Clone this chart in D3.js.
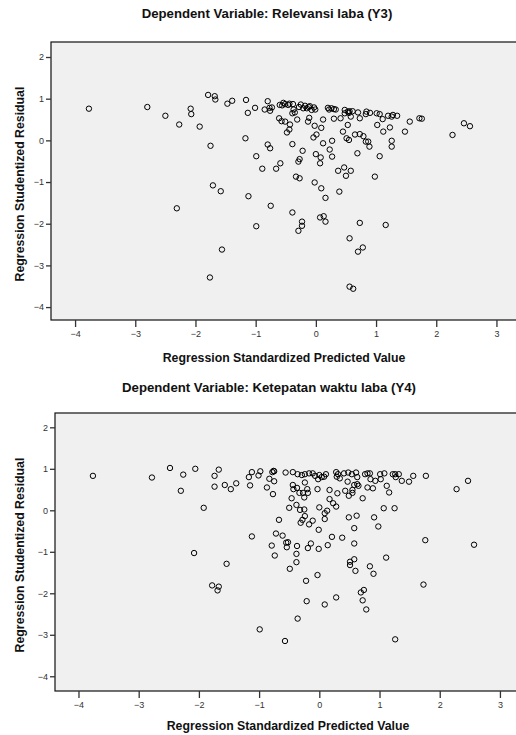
<!DOCTYPE html>
<html lang="en">
  <head>
    <meta charset="utf-8">
    <script src="https://cdn.jsdelivr.net/npm/d3@7/dist/d3.min.js"></script>
    <style>
      body { margin: 0; background: #fff; }
      text { font-family: "Liberation Sans", Arial, sans-serif; }
    </style>
  </head>
  <body>
    <script type="text/javascript">

      // Data
      var xTicks = [-4, -3, -2, -1, 0, 1, 2, 3];
      var yTicks = [-4, -3, -2, -1, 0, 1, 2];

      var titleY3 = "Dependent Variable: Relevansi laba (Y3)";
      var titleY4 = "Dependent Variable: Ketepatan waktu laba (Y4)";
      var xLabel = "Regression Standardized Predicted Value";
      var yLabel = "Regression Studentized Residual";

      // Y3: predicted (x) and residual (y)
      var predY3 = [-3.77,-2.80,-2.50,-2.27,-2.08,-2.07,-1.93,-1.79,-1.68,-1.67,-1.47,-1.39,-1.16,-1.13,-1.01,-0.85,-0.80,-0.77,-0.76,-0.73,
        -0.61,-0.60,-1.75,-1.17,-0.80,-0.76,-0.99,-0.89,-0.66,-0.59,-1.71,-1.58,-1.12,-0.75,-2.31,-0.99,-1.56,-1.76,
        -0.54,-0.51,-0.56,-0.46,-0.38,-0.37,-0.35,-0.39,-0.25,-0.21,-0.18,-0.15,-0.10,-0.07,-0.03,-0.01,0.20,0.26,0.30,0.33,
        0.48,0.53,0.56,0.61,0.48,0.70,0.84,0.83,0.90,1.01,1.06,1.20,1.26,1.28,1.35,1.72,1.76,2.46,2.56,2.27,
        -0.57,-0.51,-0.43,-0.44,-0.48,-0.31,-0.11,-0.13,-0.02,0.12,0.09,0.01,-0.04,0.30,0.41,0.53,0.45,0.58,0.73,0.65,0.73,0.79,
        0.51,0.55,0.83,0.89,0.87,1.02,1.11,1.23,1.12,1.26,1.26,1.48,1.56,-0.39,0.12,0.27,0.23,0.27,-0.22,0.00,0.08,0.07,
        -0.27,-0.29,0.69,1.06,0.37,0.47,0.58,0.50,0.98,-0.33,-0.27,-0.02,0.09,0.39,0.16,
        -0.39,-0.23,-0.23,-0.29,0.07,0.13,0.16,0.73,1.16,0.56,0.78,0.70,0.56,0.62,
        -0.28,-0.12,0.22,0.55,-0.44];
      var residY3 = [0.76,0.80,0.59,0.38,0.76,0.63,0.33,1.09,1.06,0.98,0.88,0.95,0.97,0.66,0.78,0.74,0.94,0.78,0.71,0.79,
        0.53,0.85,-0.13,0.05,-0.10,-0.19,-0.38,-0.68,-0.68,-0.55,-1.08,-1.22,-1.34,-1.57,-1.63,-2.06,-2.62,-3.29,
        0.90,0.87,0.84,0.85,0.87,0.74,0.67,0.65,0.86,0.77,0.83,0.77,0.82,0.73,0.79,0.74,0.78,0.77,0.75,0.74,
        0.73,0.69,0.70,0.70,0.65,0.67,0.69,0.63,0.66,0.65,0.63,0.59,0.57,0.61,0.59,0.53,0.52,0.41,0.34,0.13,
        0.46,0.45,0.38,0.26,0.19,0.50,0.54,0.45,0.35,0.50,0.30,0.14,0.07,0.52,0.53,0.37,0.21,0.57,0.53,0.14,0.15,0.10,
        0.05,0.01,-0.03,-0.15,-0.03,0.37,0.51,0.31,0.21,-0.01,-0.15,0.21,0.45,-0.09,-0.07,-0.01,-0.22,-0.39,-0.25,-0.33,-0.41,-0.55,
        -0.45,-0.51,-0.31,-0.38,-0.73,-0.65,-0.73,-0.85,-0.87,-0.87,-0.91,-1.01,-1.15,-1.23,-1.38,
        -1.73,-1.95,-2.05,-2.17,-1.85,-1.82,-1.95,-1.98,-2.03,-2.35,-2.57,-2.67,-3.51,-3.56,
        0.80,0.80,0.74,0.66,0.88];

      // Y4: predicted (x) and residual (y)
      var predY4 = [-3.76,-2.78,-2.48,-2.26,-2.30,-2.06,-1.92,-1.74,-1.67,-1.74,-1.57,-1.47,-1.38,-1.17,-1.12,-1.15,-0.98,-1.01,-0.87,-0.83,
        -0.78,-0.75,-0.75,-0.77,-0.67,-1.12,-0.72,-0.79,-0.74,-2.08,-1.54,-1.78,-1.67,-1.69,-0.99,
        -0.76,-0.56,-0.44,-0.36,-0.29,-0.24,-0.17,-0.11,-0.07,0.00,0.04,-0.02,0.11,0.08,0.28,0.31,0.29,0.34,0.41,0.48,
        0.54,0.61,0.63,0.76,0.80,0.84,0.85,0.93,1.01,1.08,1.02,1.22,1.26,1.32,1.27,1.37,1.49,1.56,1.77,2.28,2.47,
        -0.44,-0.43,-0.37,-0.33,-0.27,-0.25,-0.20,-0.19,-0.24,-0.03,-0.46,0.17,0.30,0.17,0.47,0.43,0.49,0.55,0.55,0.58,
        0.63,0.65,0.72,0.80,0.89,1.12,1.16,-0.38,-0.50,-0.32,-0.25,0.00,0.23,0.28,0.13,0.09,0.09,-0.24,-0.11,-0.28,
        -0.31,-0.17,-0.01,0.49,0.62,0.91,1.07,1.25,0.98,0.58,-0.61,0.21,0.38,1.76,
        2.57,-0.55,-0.52,-0.54,-0.37,-0.38,-0.38,-0.49,-0.14,-0.19,-0.01,0.14,0.58,0.58,0.51,0.51,0.60,0.84,0.90,1.11,
        -0.03,-0.22,1.73,0.74,0.69,0.72,0.78,0.28,0.09,-0.21,-0.36,-0.57,1.26];
      var residY4 = [0.83,0.79,1.02,0.86,0.47,1.00,0.06,0.83,0.98,0.57,0.61,0.51,0.65,0.80,0.92,0.60,0.94,0.84,0.55,0.76,
        0.92,0.94,0.70,0.39,-0.23,-0.63,-0.56,-0.85,-1.09,-1.03,-1.29,-1.81,-1.84,-1.93,-2.87,
        0.95,0.91,0.92,0.87,0.85,0.87,0.89,0.89,0.83,0.85,0.80,0.75,0.87,0.81,0.92,0.87,0.81,0.77,0.89,0.91,
        0.87,0.91,0.80,0.87,0.89,0.89,0.75,0.71,0.87,0.89,0.75,0.87,0.87,0.87,0.80,0.71,0.69,0.83,0.83,0.51,0.71,
        0.61,0.51,0.54,0.42,0.42,0.31,0.51,0.42,0.67,0.51,0.29,0.49,0.41,0.27,0.69,0.47,0.35,0.49,0.42,0.61,
        0.63,0.59,0.29,0.55,0.53,0.59,0.43,0.13,0.06,0.01,0.02,0.07,0.17,0.09,-0.01,-0.07,-0.21,-0.14,-0.25,-0.23,
        -0.30,-0.34,-0.47,-0.17,-0.13,-0.17,0.05,0.05,-0.39,-0.43,-0.61,-0.64,-0.66,-0.72,
        -0.83,-0.78,-0.77,-0.89,-0.86,-1.05,-1.25,-1.41,-0.80,-0.91,-0.93,-0.84,-0.80,-1.18,-1.24,-1.32,-1.46,-1.35,-1.53,-1.14,
        -1.56,-1.70,-1.79,-1.92,-1.98,-2.17,-2.39,-2.10,-2.27,-2.19,-2.61,-3.15,-3.11];

      var svgWidth = 516;
      var svgHeight = 735;

      var svg = d3.select("body")
        .append("svg")
        .attr("width", svgWidth)
        .attr("height", svgHeight);

      function drawPanel(p) {
        var x = d3.scaleLinear().domain(p.xDomain).range([p.left, p.right]);
        var y = d3.scaleLinear().domain(p.yDomain).range([p.bottom, p.top]);
        var g = svg.append("g");

        // title
        g.append("text")
          .attr("x", p.titleX)
          .attr("y", p.titleY)
          .attr("text-anchor", "middle")
          .attr("font-size", 13.2)
          .attr("font-weight", "bold")
          .attr("fill", "#111")
          .text(p.title);

        // plot area + frame
        g.append("rect")
          .attr("x", p.left)
          .attr("y", p.top)
          .attr("width", p.right - p.left)
          .attr("height", p.bottom - p.top)
          .attr("fill", "#f0f0f0")
          .attr("stroke", "#111")
          .attr("stroke-width", 1.2);

        var yAxis = g.append("g")
          .attr("transform", "translate(" + p.left + ",0)")
          .call(d3.axisLeft(y).tickValues(yTicks).tickSize(5).tickPadding(2).tickFormat(d3.format("d")));
        var xAxis = g.append("g")
          .attr("transform", "translate(0," + p.bottom + ")")
          .call(d3.axisBottom(x).tickValues(xTicks).tickSize(7).tickPadding(4).tickFormat(d3.format("d")));

        [xAxis, yAxis].forEach(function(a) {
          a.select(".domain").remove();
          a.selectAll("line").attr("stroke", "#333").attr("stroke-width", 1.3);
          a.selectAll("text")
            .attr("font-family", "'Liberation Sans', Arial, sans-serif")
            .attr("font-size", 9)
            .attr("fill", "#333");
        });

        // axis titles
        g.append("text")
          .attr("x", p.xLabelX)
          .attr("y", p.xLabelY)
          .attr("text-anchor", "middle")
          .attr("font-size", 12.3)
          .attr("font-weight", "bold")
          .attr("fill", "#111")
          .text(xLabel);

        g.append("text")
          .attr("transform", "translate(24," + p.yLabelY + ") rotate(-90)")
          .attr("text-anchor", "middle")
          .attr("font-size", 12.3)
          .attr("font-weight", "bold")
          .attr("fill", "#111")
          .text(yLabel);

        // points
        g.append("g")
          .selectAll("circle")
          .data(p.xs.map(function(v, i) { return [v, p.ys[i]]; }))
          .enter()
          .append("circle")
          .attr("cx", function(d) { return x(d[0]); })
          .attr("cy", function(d) { return y(d[1]); })
          .attr("r", 2.7)
          .attr("fill", "none")
          .attr("stroke", "#000")
          .attr("stroke-width", 1);
      }

      drawPanel({
        title: titleY3, titleX: 267, titleY: 18,
        left: 51, right: 518, top: 42, bottom: 320,
        xDomain: [-4.4, 3.358], yDomain: [-4.31, 2.36],
        xLabelX: 284, xLabelY: 362, yLabelY: 184,
        xs: predY3, ys: residY3
      });

      drawPanel({
        title: titleY4, titleX: 269, titleY: 392,
        left: 55, right: 518, top: 413, bottom: 691,
        xDomain: [-4.39, 3.30], yDomain: [-4.355, 2.345],
        xLabelX: 288, xLabelY: 730, yLabelY: 555,
        xs: predY4, ys: residY4
      });
    </script>
  </body>
</html>
